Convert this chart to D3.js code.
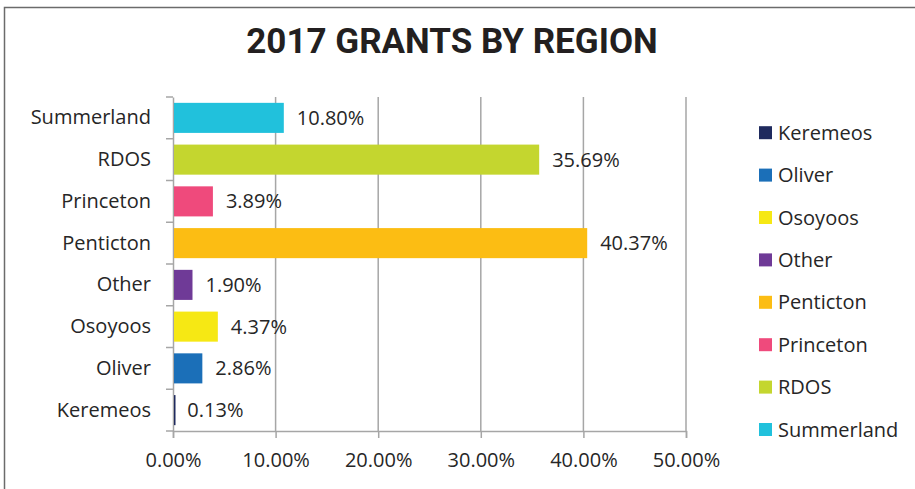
<!DOCTYPE html>
<html>
<head>
<meta charset="utf-8">
<script src="https://cdn.jsdelivr.net/npm/d3@7"></script>
<style>
  body { margin: 0; background: #fff; }
  svg { display: block; }
  .lbl { font-family: "Open Sans", sans-serif; font-size: 20px; fill: #262626; }
</style>
</head>
<body>
<div id="chart"></div>
<script>
const FRAME_WIDTH = 915;
const FRAME_HEIGHT = 489;
const MARGINS = {left: 173, right: 229, top: 97, bottom: 58};

// bar order from bottom to top, same as the legend order
const regions = ["Keremeos", "Oliver", "Osoyoos", "Other", "Penticton", "Princeton", "RDOS", "Summerland"];
const shares = [0.13, 2.86, 4.37, 1.90, 40.37, 3.89, 35.69, 10.80];
const colors = ["#1f2a5e", "#1b6fb8", "#f6e814", "#6f3a97", "#fcbd13", "#ef4a7c", "#c4d62f", "#21c1dc"];
const xTicks = [0, 10, 20, 30, 40, 50];

const data = regions.map((r, i) => ({region: r, value: shares[i], color: colors[i]}));

const SVG = d3.select("#chart")
  .append("svg")
    .attr("width", FRAME_WIDTH)
    .attr("height", FRAME_HEIGHT);

// outer frame
SVG.append("rect")
  .attr("x", 4.5).attr("y", 7.5)
  .attr("width", FRAME_WIDTH + 10).attr("height", FRAME_HEIGHT + 10)
  .attr("fill", "none").attr("stroke", "#6b6b6b").attr("stroke-width", 1.5);

// title
SVG.append("text")
  .attr("x", 452).attr("y", 53)
  .attr("text-anchor", "middle")
  .style("font-family", "Roboto, sans-serif")
  .style("font-weight", 700)
  .style("font-size", "35px")
  .style("fill", "#231f20")
  .text("2017 GRANTS BY REGION");

const PLOT_W = FRAME_WIDTH - MARGINS.left - MARGINS.right;
const PLOT_H = FRAME_HEIGHT - MARGINS.top - MARGINS.bottom;

const x = d3.scaleLinear().domain([0, 50]).range([0, PLOT_W]);
const y = d3.scaleBand()
  .domain(regions.slice().reverse())
  .range([0, PLOT_H])
  .paddingInner(0.28).paddingOuter(0.14);

const g = SVG.append("g")
  .attr("transform", "translate(" + MARGINS.left + "," + MARGINS.top + ")");

// vertical gridlines
g.append("g")
  .selectAll("line")
  .data(xTicks.slice(1))
  .enter()
  .append("line")
    .attr("x1", d => x(d)).attr("x2", d => x(d))
    .attr("y1", 0).attr("y2", PLOT_H)
    .attr("stroke", "#a6a6a6").attr("stroke-width", 1.5);

// x axis
const xAxis = g.append("g")
  .attr("transform", "translate(0," + PLOT_H + ")")
  .call(d3.axisBottom(x).tickValues(xTicks).tickSize(7).tickPadding(15)
    .tickFormat(d => d.toFixed(2) + "%"));
xAxis.select(".domain").attr("stroke", "#a6a6a6").attr("stroke-width", 1.5);
xAxis.selectAll(".tick line").attr("stroke", "#a6a6a6").attr("stroke-width", 1.5);
xAxis.selectAll("text").attr("class", "lbl").attr("fill", null);

// y axis, ticks between the categories
const yAxis = g.append("g")
  .call(d3.axisLeft(y).tickSize(0).tickPadding(22));
yAxis.select(".domain").attr("stroke", "#a6a6a6").attr("stroke-width", 1.5);
yAxis.selectAll("text").attr("class", "lbl").attr("fill", null);

g.append("g")
  .selectAll("line")
  .data(d3.range(regions.length + 1))
  .enter()
  .append("line")
    .attr("x1", -7).attr("x2", 0)
    .attr("y1", d => d * PLOT_H / regions.length)
    .attr("y2", d => d * PLOT_H / regions.length)
    .attr("stroke", "#a6a6a6").attr("stroke-width", 1.5);

// bars
g.append("g")
  .selectAll("rect")
  .data(data)
  .enter()
  .append("rect")
    .attr("x", x(0) + 1)
    .attr("y", d => y(d.region))
    .attr("width", d => Math.max(x(d.value) - 1, 1.5))
    .attr("height", y.bandwidth())
    .attr("fill", d => d.color);

// value labels
g.append("g")
  .selectAll("text")
  .data(data)
  .enter()
  .append("text")
    .attr("class", "lbl")
    .attr("x", d => x(d.value) + 13)
    .attr("y", d => y(d.region) + y.bandwidth() / 2)
    .attr("dy", "0.35em")
    .text(d => d.value.toFixed(2) + "%");

// legend
const legend = SVG.append("g")
  .selectAll("g")
  .data(data)
  .enter()
  .append("g")
    .attr("transform", (d, i) => "translate(759," + (132.7 + i * 42.4) + ")");
legend.append("rect")
  .attr("x", 0).attr("y", -6.5)
  .attr("width", 13).attr("height", 13)
  .attr("fill", d => d.color);
legend.append("text")
  .attr("class", "lbl")
  .attr("x", 19).attr("y", 0)
  .attr("dy", "0.35em")
  .text(d => d.region);
</script>
</body>
</html>
